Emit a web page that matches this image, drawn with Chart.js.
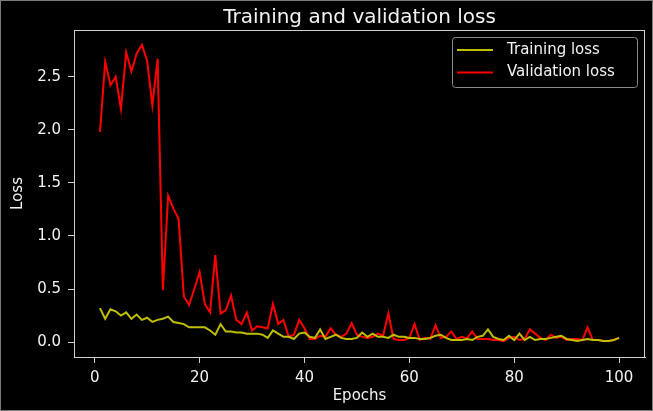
<!DOCTYPE html>
<html>
<head>
<meta charset="utf-8">
<script src="https://cdn.jsdelivr.net/npm/chart.js@4.4.1/dist/chart.umd.min.js"></script>
<style>
  html, body { margin: 0; padding: 0; background: #000; }
  canvas { display: block; }
</style>
</head>
<body>
<canvas id="c" width="653" height="411"></canvas>
<script>
const epochs = [1,2,3,4,5,6,7,8,9,10,11,12,13,14,15,16,17,18,19,20,
  21,22,23,24,25,26,27,28,29,30,31,32,33,34,35,36,37,38,39,40,
  41,42,43,44,45,46,47,48,49,50,51,52,53,54,55,56,57,58,59,60,
  61,62,63,64,65,66,67,68,69,70,71,72,73,74,75,76,77,78,79,80,
  81,82,83,84,85,86,87,88,89,90,91,92,93,94,95,96,97,98,99,100];

const trainingLoss = [0.32,0.22,0.31,0.29,0.25,0.28,0.22,0.26,0.21,0.23,
  0.19,0.21,0.22,0.24,0.19,0.18,0.17,0.14,0.14,0.14,
  0.14,0.11,0.07,0.17,0.10,0.10,0.09,0.09,0.08,0.08,
  0.08,0.07,0.04,0.11,0.08,0.05,0.05,0.03,0.08,0.09,
  0.05,0.04,0.12,0.03,0.05,0.07,0.04,0.03,0.03,0.04,
  0.09,0.05,0.08,0.05,0.05,0.04,0.07,0.05,0.05,0.04,
  0.04,0.03,0.03,0.04,0.06,0.07,0.04,0.02,0.02,0.02,
  0.03,0.02,0.05,0.06,0.12,0.05,0.03,0.02,0.06,0.02,
  0.08,0.02,0.05,0.02,0.03,0.03,0.04,0.05,0.06,0.03,
  0.02,0.01,0.02,0.03,0.02,0.02,0.01,0.01,0.02,0.04];

const validationLoss = [1.98,2.64,2.42,2.50,2.20,2.73,2.55,2.72,2.80,2.65,
  2.23,2.67,0.49,1.38,1.26,1.16,0.43,0.35,0.50,0.66,
  0.36,0.28,0.82,0.27,0.30,0.44,0.21,0.17,0.28,0.11,
  0.15,0.14,0.13,0.36,0.17,0.21,0.05,0.07,0.21,0.13,
  0.03,0.03,0.06,0.05,0.13,0.07,0.05,0.08,0.18,0.07,
  0.05,0.04,0.05,0.08,0.06,0.27,0.03,0.02,0.02,0.04,
  0.17,0.02,0.04,0.03,0.16,0.04,0.05,0.10,0.03,0.05,
  0.035,0.10,0.03,0.03,0.03,0.02,0.02,0.01,0.04,0.05,
  0.02,0.03,0.12,0.08,0.04,0.02,0.07,0.04,0.05,0.02,
  0.03,0.03,0.02,0.14,0.02,0.02,0.01,0.01,0.02,0.04];

const xTicks = [0, 20, 40, 60, 80, 100];
const yTicks = [0.0, 0.5, 1.0, 1.5, 2.0, 2.5];

const titleText = 'Training and validation loss';
const seriesNames = ['Training loss', 'Validation loss'];
const seriesColors = ['#bfbf00', '#ff0000'];

const FONT = '"DejaVu Sans", "Liberation Sans", sans-serif';
const TEXT = '#f2f2f2';
const AXIS = '#cfcfcf';

const framePlugin = {
  id: 'frame',
  beforeDraw(chart) {
    const ctx = chart.ctx;
    ctx.save();
    ctx.fillStyle = '#000';
    ctx.fillRect(0, 0, chart.width, chart.height);
    ctx.restore();
  },
  afterDraw(chart) {
    const ctx = chart.ctx;
    const a = chart.chartArea;
    ctx.save();
    // spines
    ctx.strokeStyle = AXIS;
    ctx.lineWidth = 1;
    ctx.strokeRect(Math.round(a.left) + 0.5, Math.round(a.top) + 0.5,
      Math.round(a.right - a.left) - 1, Math.round(a.bottom - a.top));
    // title
    ctx.fillStyle = TEXT;
    ctx.font = '20px ' + FONT;
    ctx.textAlign = 'center';
    ctx.textBaseline = 'alphabetic';
    ctx.fillText(titleText, (a.left + a.right) / 2, a.top - 7.5);
    // legend
    const lw = 185, lh = 50;
    const lx = a.right - 8 - lw, ly = a.top + 7;
    ctx.fillStyle = '#000';
    ctx.strokeStyle = '#8a8a8a';
    ctx.lineWidth = 1;
    ctx.beginPath();
    if (ctx.roundRect) ctx.roundRect(lx + 0.5, ly + 0.5, lw, lh, 3);
    else ctx.rect(lx + 0.5, ly + 0.5, lw, lh);
    ctx.fill();
    ctx.stroke();
    ctx.font = '15px ' + FONT;
    ctx.textAlign = 'left';
    ctx.textBaseline = 'middle';
    chart.data.datasets.forEach((ds, i) => {
      const cy = ly + 13 + i * 22.5;
      ctx.strokeStyle = ds.borderColor;
      ctx.lineWidth = 2;
      ctx.beginPath();
      ctx.moveTo(lx + 5, cy);
      ctx.lineTo(lx + 41, cy);
      ctx.stroke();
      ctx.fillStyle = TEXT;
      ctx.fillText(ds.label, lx + 55, cy);
    });
    // outer border of picture
    ctx.strokeStyle = '#7a7a7a';
    ctx.lineWidth = 1;
    ctx.strokeRect(0.5, 0.5, chart.width - 1, chart.height - 1);
    ctx.restore();
  }
};

new Chart(document.getElementById('c'), {
  type: 'line',
  data: {
    datasets: [
      {
        label: seriesNames[0],
        data: epochs.map((e, i) => ({ x: e, y: trainingLoss[i] })),
        borderColor: seriesColors[0],
        backgroundColor: seriesColors[0],
        borderWidth: 2,
        pointRadius: 0,
        tension: 0
      },
      {
        label: seriesNames[1],
        data: epochs.map((e, i) => ({ x: e, y: validationLoss[i] })),
        borderColor: seriesColors[1],
        backgroundColor: seriesColors[1],
        borderWidth: 2,
        pointRadius: 0,
        tension: 0
      }
    ]
  },
  options: {
    responsive: false,
    animation: false,
    devicePixelRatio: 1,
    layout: { padding: { top: 30, right: 8, left: 0, bottom: 0 } },
    plugins: {
      legend: { display: false },
      title: { display: false },
      tooltip: { enabled: false }
    },
    scales: {
      x: {
        type: 'linear',
        min: -3.95,
        max: 104.95,
        afterBuildTicks(scale) { scale.ticks = xTicks.map(v => ({ value: v })); },
        afterFit(scale) { scale.height = 54; },
        ticks: {
          color: TEXT,
          font: { family: FONT, size: 15 },
          padding: 6,
          maxRotation: 0,
          autoSkip: false
        },
        grid: {
          drawOnChartArea: false,
          drawTicks: true,
          tickLength: 6,
          tickColor: AXIS,
          tickWidth: 1
        },
        border: { display: true, color: AXIS, width: 1 },
        title: {
          display: true,
          text: 'Epochs',
          color: TEXT,
          font: { family: FONT, size: 15 },
          padding: { top: 0, bottom: 6 }
        }
      },
      y: {
        type: 'linear',
        min: -0.14,
        max: 2.94,
        afterBuildTicks(scale) { scale.ticks = yTicks.map(v => ({ value: v })); },
        afterFit(scale) { scale.width = 74; },
        ticks: {
          color: TEXT,
          font: { family: FONT, size: 15 },
          padding: 7,
          callback: v => Number(v).toFixed(1)
        },
        grid: {
          drawOnChartArea: false,
          drawTicks: true,
          tickLength: 6,
          tickColor: AXIS,
          tickWidth: 1
        },
        border: { display: true, color: AXIS, width: 1 },
        title: {
          display: true,
          text: 'Loss',
          color: TEXT,
          font: { family: FONT, size: 15 },
          padding: { top: 9, bottom: 0 }
        }
      }
    }
  },
  plugins: [framePlugin]
});
</script>
</body>
</html>
